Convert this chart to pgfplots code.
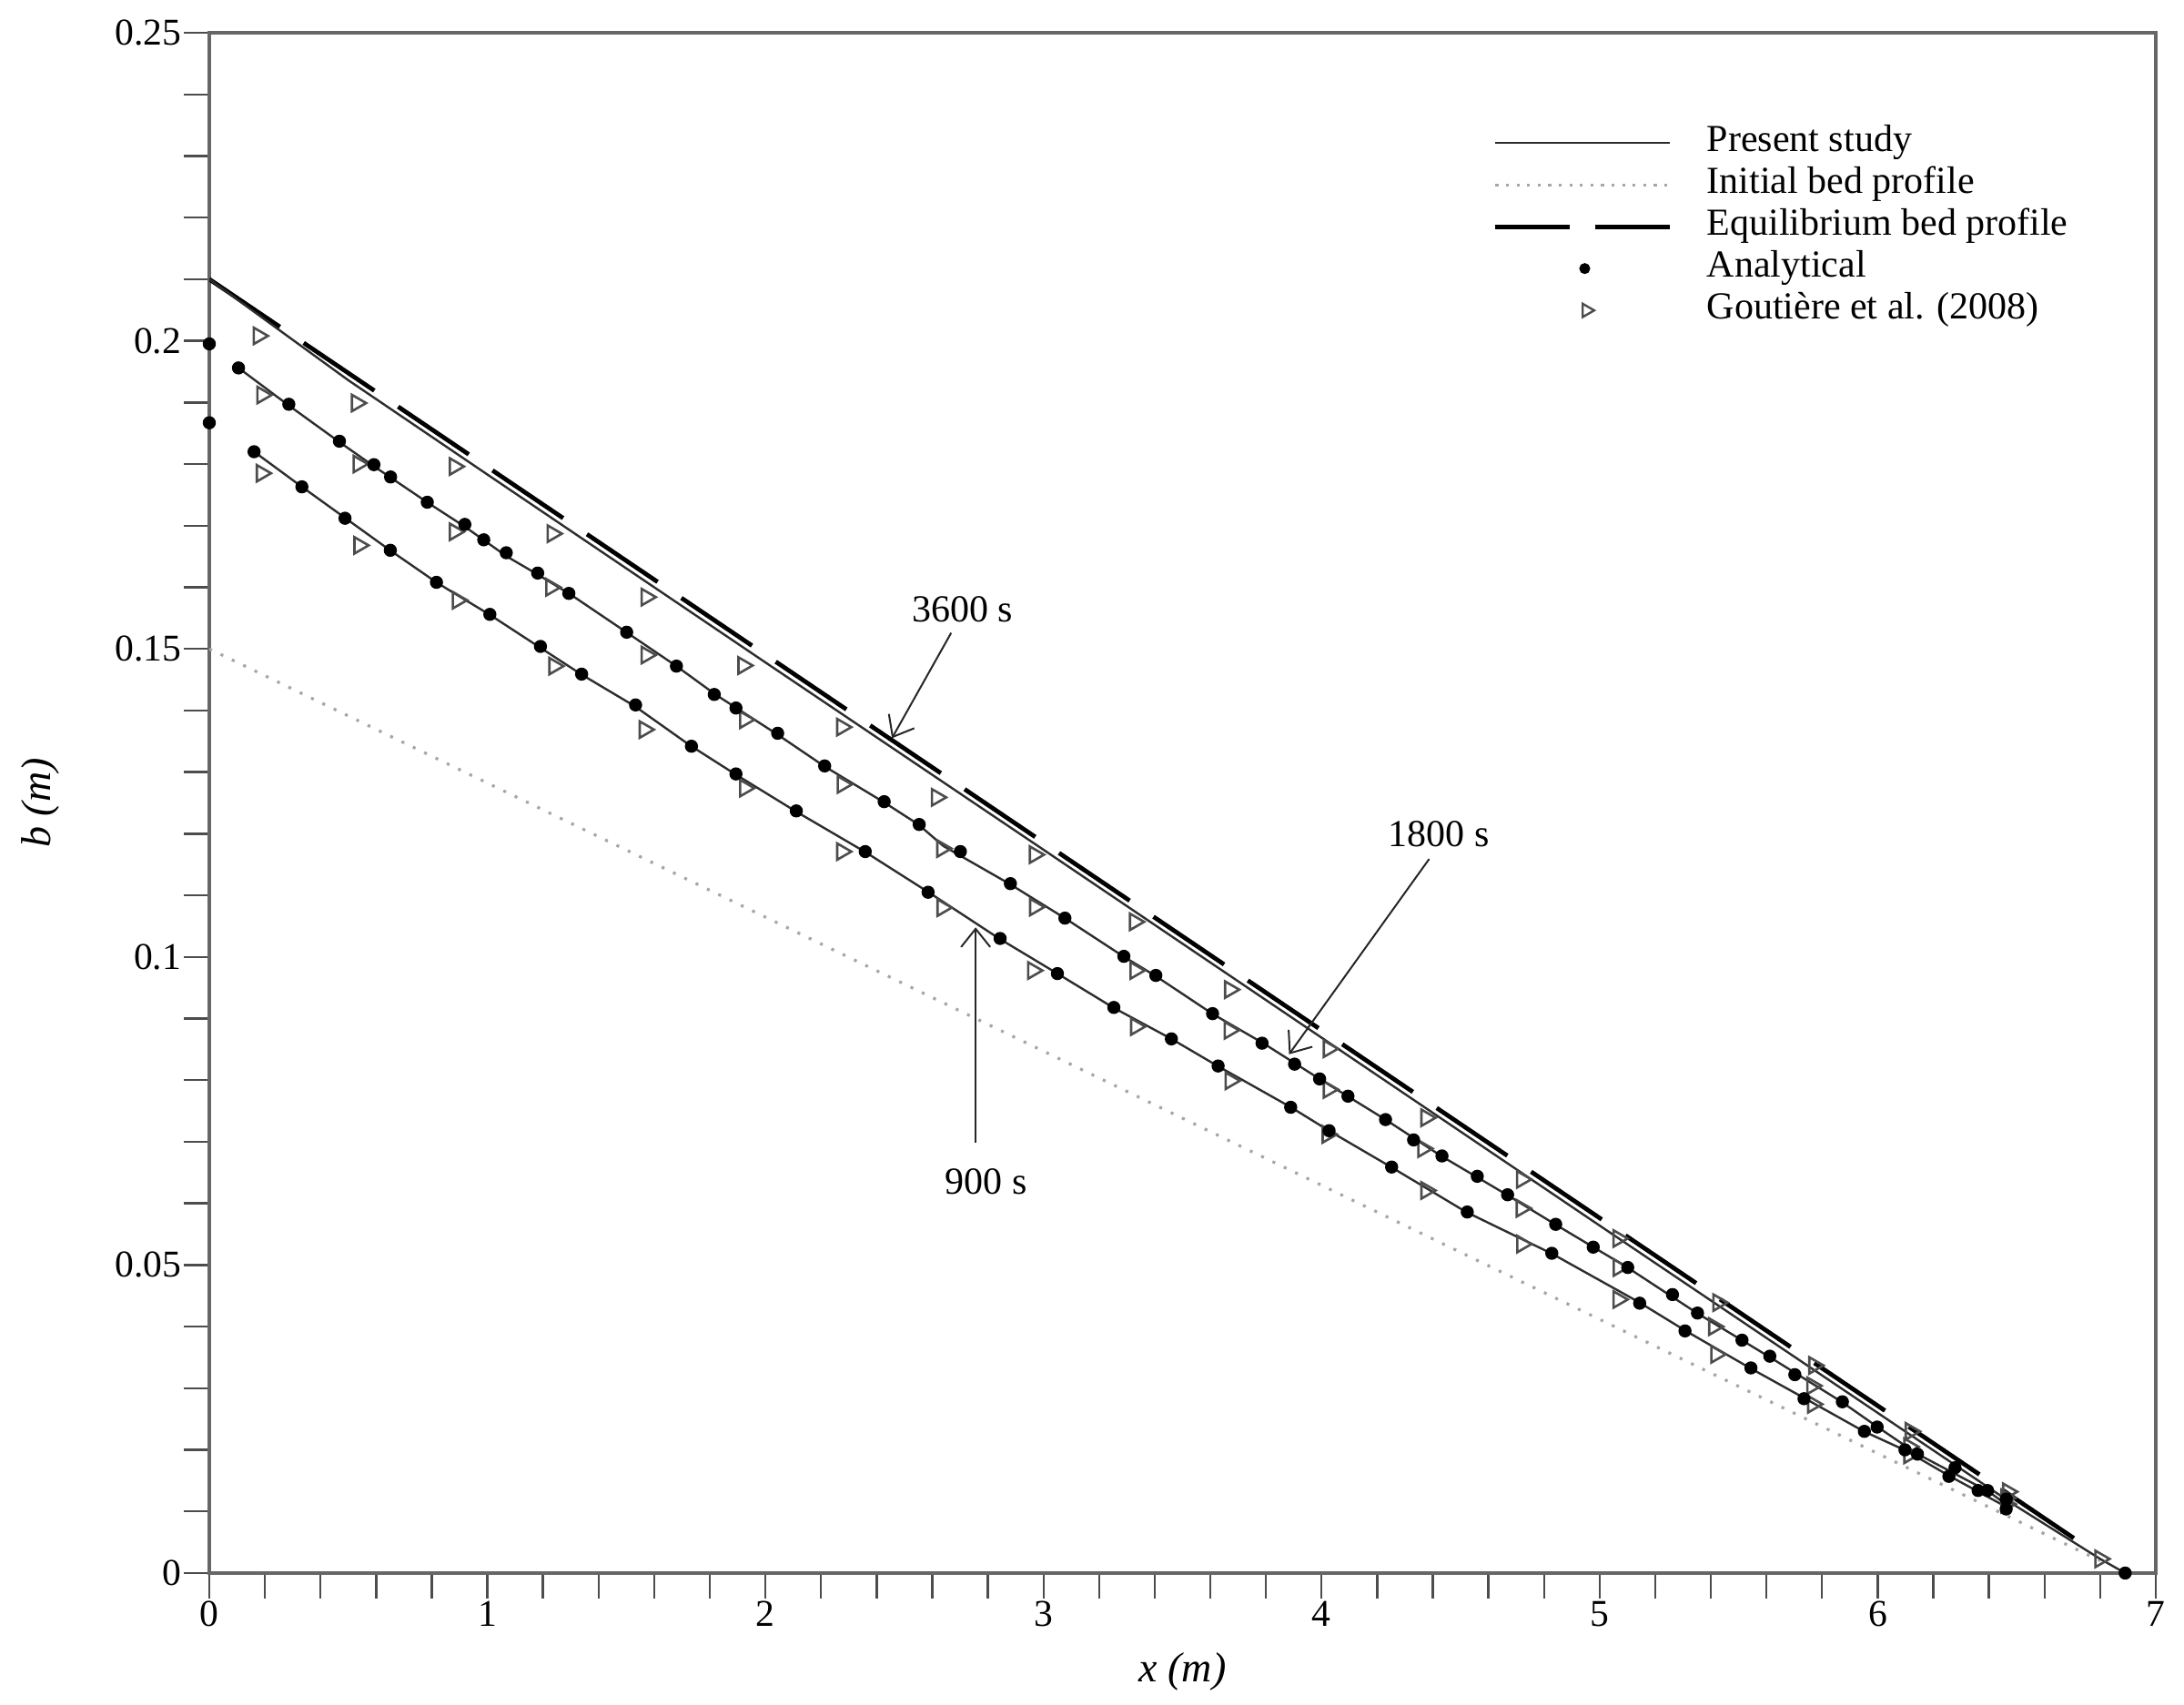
\documentclass[border=0pt]{standalone}
\usepackage{fontspec}
\setmainfont{Liberation Serif}
\usepackage{pgfplots}
\pgfplotsset{compat=1.18}
\usetikzlibrary{arrows.meta}
\pgfplotsset{
  longline legend/.style={legend image code/.code={\draw[##1] (0pt,0pt) -- (48pt,0pt);}},
  eqline legend/.style={legend image code/.code={\draw[##1, dash pattern=on 20.5pt off 7pt] (0pt,0pt) -- (48pt,0pt);}},
  dotmark legend/.style={legend image code/.code={\path (0pt,0pt) (48pt,0pt); \draw[##1] plot coordinates {(24.5pt,0pt)};}},
  trimark legend/.style={legend image code/.code={\path (0pt,0pt) (48pt,0pt); \draw[##1] plot coordinates {(25pt,0pt)};}},
}
\begin{document}
\begin{tikzpicture}
\useasboundingbox (-57.5pt,-36.25pt) rectangle (542.5pt,432.25pt);
\begin{axis}[
  at={(0pt,0pt)}, anchor=south west,
  width=534.75pt, height=423.25pt, scale only axis,
  xmin=0, xmax=7, ymin=0, ymax=0.25,
  axis line style={draw=gray!80!black, line width=0.8pt},
  xtick={0,1,2,3,4,5,6,7},
  xticklabels={0,1,2,3,4,5,6,7},
  minor x tick num=4,
  ytick={0,0.05,0.1,0.15,0.2,0.25},
  yticklabels={0,0.05,0.1,0.15,0.2,0.25},
  minor y tick num=4,
  tick align=outside,
  tick pos=left,
  major tick length=7pt, minor tick length=7pt,
  every tick/.style={draw=gray!60!black, line width=0.6pt},
  tick label style={font=\fontsize{10.4}{12}\selectfont},
  xticklabel style={inner ysep=0.5pt},
  yticklabel style={inner xsep=0.5pt},
  every axis x label/.style={at={(rel axis cs:0.5,0)}, yshift=-27pt, anchor=center},
  every axis y label/.style={at={(rel axis cs:0,0.5)}, xshift=-46.5pt, rotate=90, anchor=center},
  xlabel={\fontsize{11.5}{13}\selectfont\textit{x (m)}},
  ylabel={\fontsize{11.5}{13}\selectfont\textit{b (m)}},
  legend style={at={(rel axis cs:0.6597,0.9420)}, anchor=north west, draw=none, fill=none,
    font=\fontsize{10.5}{12}\selectfont, inner sep=0pt, outer sep=0pt, row sep=0pt, column sep=9.5pt,
    nodes={inner sep=0pt, text height=8pt, text depth=3.5pt}},
  legend cell align=left,
]
% legend images
\addlegendimage{draw=gray!35!black, line width=0.6pt, longline legend}
\addlegendentry{Present study}
\addlegendimage{draw=gray!70, line width=0.8pt, dash pattern=on 0.8pt off 2.1pt, longline legend}
\addlegendentry{Initial bed profile}
\addlegendimage{draw=black, line width=1.2pt, eqline legend}
\addlegendentry{Equilibrium bed profile}
\addlegendimage{only marks, mark=*, mark size=1.3pt, black, dotmark legend}
\addlegendentry{Analytical}
\addlegendimage{only marks, mark=triangle, mark size=2.1pt, draw=gray!60!black, mark options={rotate=-90, line width=0.6pt}, trimark legend}
\addlegendentry{Goutière et al. (2008)}

% initial bed profile
\addplot[forget plot, draw=gray!70, line width=0.8pt, dash pattern=on 0.8pt off 2.65pt] coordinates {(0,0.15) (6.8,0.002)};
% equilibrium bed profile
\addplot[forget plot, draw=black, line width=1.2pt, dash pattern=on 23.4pt off 7.9pt] coordinates {(0,0.21) (6.75,0.0043)};
% present study 3600 s
\addplot[forget plot, draw=gray!35!black, line width=0.6pt] coordinates {
(0,0.2100) (0.5,0.1936) (1,0.1783) (2,0.1478) (3,0.1174) (4,0.0869) (5,0.0564) (6,0.0260) (6.5,0.0108) (6.8,0.0023) (6.89,0.0)};
% present study 1800 s
\addplot[forget plot, draw=gray!35!black, line width=0.6pt] coordinates {
(0.105,0.1956) (0.286,0.1895) (0.47,0.1835) (0.59,0.1797) (0.79,0.1736) (0.92,0.1698) (1.07,0.1650) (1.18,0.1621) (1.30,0.1588) (1.50,0.1527) (1.68,0.1472) (1.82,0.1426) (2.04,0.1362) (2.21,0.1310) (2.43,0.1250) (2.55,0.1215) (2.64,0.1180) (2.88,0.1118) (3.08,0.1062) (3.29,0.1000) (3.40,0.0970) (3.61,0.0907) (3.79,0.0860) (4.00,0.0800) (4.23,0.0736) (4.43,0.0677) (4.67,0.0613) (4.84,0.0566) (5.10,0.0496) (5.35,0.0422) (5.61,0.0351) (5.87,0.0278) (6.00,0.0237) (6.14,0.0194) (6.40,0.0132) (6.46,0.0112)};
% present study 900 s
\addplot[forget plot, draw=gray!35!black, line width=0.6pt] coordinates {
(0.161,0.1820) (0.333,0.1763) (0.49,0.1712) (0.65,0.1660) (0.82,0.1607) (1.01,0.1555) (1.19,0.1502) (1.34,0.1458) (1.53,0.1407) (1.73,0.1343) (1.89,0.1297) (2.11,0.1236) (2.36,0.1170) (2.59,0.1104) (2.84,0.1030) (3.05,0.0973) (3.25,0.0918) (3.46,0.0867) (3.63,0.0822) (3.89,0.0756) (4.03,0.0717) (4.25,0.0659) (4.52,0.0586) (4.83,0.0518) (5.14,0.0440) (5.31,0.0393) (5.54,0.0333) (5.74,0.0283) (5.95,0.0230) (6.10,0.0199) (6.26,0.0157) (6.46,0.0108)};

% Goutiere et al. (2008)
\addplot[forget plot, only marks, mark=triangle, mark size=2.6pt, draw=gray!60!black, mark options={rotate=-90, line width=0.65pt}] coordinates {
(0.177,0.2008) (0.530,0.1899) (0.882,0.1796) (1.234,0.1687) (1.572,0.1584) (1.920,0.1473) (2.275,0.1373) (2.616,0.1259) (2.968,0.1166) (3.328,0.1057) (3.670,0.0947) (4.025,0.0851) (4.376,0.0739) (4.720,0.0639) (5.067,0.0543) (5.426,0.0439) (5.771,0.0337) (6.118,0.0230) (6.468,0.0132) (6.800,0.0023)
(0.190,0.1912) (0.536,0.1800) (0.882,0.1690) (1.229,0.1600) (1.572,0.1490) (1.926,0.1385) (2.277,0.1280) (2.635,0.1176) (2.969,0.1081) (3.330,0.0978) (3.669,0.0881) (4.025,0.0785) (4.365,0.0689) (4.719,0.0592) (5.068,0.0496) (5.411,0.0400) (5.764,0.0304) (6.113,0.0205) (6.462,0.0122)
(0.188,0.1785) (0.539,0.1668) (0.893,0.1579) (1.240,0.1472) (1.565,0.1369) (1.926,0.1274) (2.275,0.1171) (2.636,0.1080) (2.962,0.0978) (3.332,0.0887) (3.672,0.0799) (4.021,0.0712) (4.376,0.0621) (4.721,0.0534) (5.067,0.0444) (5.419,0.0355) (5.767,0.0274) (6.113,0.0192) (6.462,0.0112)};

% Analytical
\addplot[forget plot, only marks, mark=*, mark size=1.6pt, black] coordinates {
(0,0.1995) (0.105,0.1956) (0.286,0.1897) (0.468,0.1837) (0.592,0.1799) (0.652,0.1779) (0.784,0.1738) (0.919,0.1702) (0.987,0.1677) (1.068,0.1656) (1.181,0.1623) (1.293,0.1590) (1.501,0.1527) (1.680,0.1472) (1.816,0.1426) (1.894,0.1404) (2.044,0.1363) (2.213,0.1310) (2.427,0.1252) (2.553,0.1215) (2.701,0.1171) (2.881,0.1119) (3.077,0.1063) (3.289,0.1001) (3.404,0.0970) (3.608,0.0908) (3.786,0.0860) (3.903,0.0826) (3.993,0.0802) (4.095,0.0774) (4.230,0.0736) (4.331,0.0703) (4.433,0.0677) (4.560,0.0644) (4.669,0.0614) (4.842,0.0566) (4.977,0.0529) (5.101,0.0496) (5.262,0.0452) (5.352,0.0422) (5.512,0.0378) (5.612,0.0352) (5.702,0.0322) (5.873,0.0278) (5.998,0.0237) (6.143,0.0193) (6.278,0.0171) (6.395,0.0134) (6.462,0.0104) (6.890,0.0)
(0,0.1867) (0.161,0.1820) (0.333,0.1763) (0.488,0.1712) (0.651,0.1660) (0.817,0.1608) (1.009,0.1556) (1.191,0.1504) (1.339,0.1459) (1.533,0.1409) (1.734,0.1342) (1.894,0.1297) (2.111,0.1237) (2.359,0.1171) (2.585,0.1105) (2.844,0.1030) (3.050,0.0973) (3.253,0.0918) (3.460,0.0867) (3.628,0.0823) (3.889,0.0756) (4.027,0.0718) (4.252,0.0659) (4.524,0.0586) (4.828,0.0519) (5.144,0.0438) (5.307,0.0393) (5.544,0.0333) (5.735,0.0283) (5.952,0.0230) (6.098,0.0200) (6.256,0.0157) (6.361,0.0134) (6.462,0.0120)};

% annotations
\node[font=\fontsize{10.5}{12}\selectfont] at (axis cs:2.709,0.1564) {3600 s};
\draw[gray!30!black, line width=0.5pt, -{Straight Barb[length=5pt,width=8pt]}] (axis cs:2.668,0.1526) -- (axis cs:2.455,0.1355);
\node[font=\fontsize{10.5}{12}\selectfont] at (axis cs:4.422,0.1199) {1800 s};
\draw[gray!30!black, line width=0.5pt, -{Straight Barb[length=5pt,width=8pt]}] (axis cs:4.387,0.1159) -- (axis cs:3.883,0.0842);
\node[font=\fontsize{10.5}{12}\selectfont] at (axis cs:2.793,0.0636) {900 s};
\draw[gray!30!black, line width=0.5pt, -{Straight Barb[length=5pt,width=8pt]}] (axis cs:2.756,0.0699) -- (axis cs:2.756,0.1048);
\end{axis}
\end{tikzpicture}
\end{document}
